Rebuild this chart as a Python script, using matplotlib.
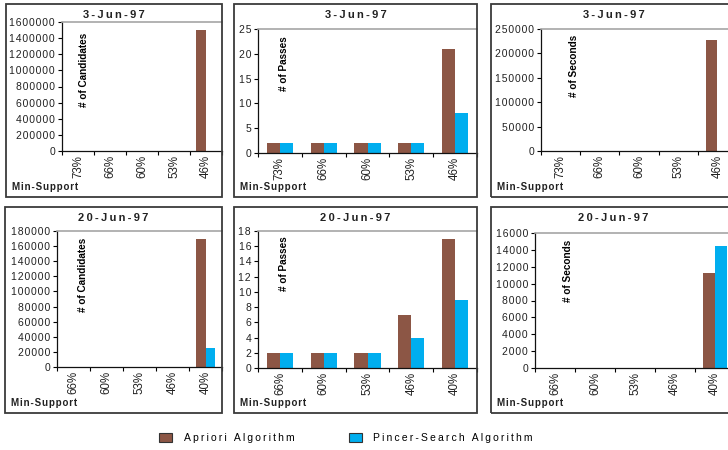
import numpy as np
import matplotlib
matplotlib.use('Agg')
import matplotlib.pyplot as plt
from matplotlib.patches import Rectangle, Patch

plt.rcParams.update({
    'font.family': 'Liberation Sans',
    'font.size': 7.5,
    'figure.facecolor': 'white',
})

C_APRIORI = '#8c5645'
C_PINCER = '#00aeef'
C_BOX = '#3a3a3a'
C_TOP = '#a6a6a6'

# Min-support levels for the two datasets
support_jun3 = ['73%', '66%', '60%', '53%', '46%']
support_jun20 = ['66%', '60%', '53%', '46%', '40%']

# 3-Jun-97
cand_apriori_jun3 = [300, 500, 900, 2500, 1500000]
cand_pincer_jun3 = [300, 500, 900, 2000, 4000]
pass_apriori_jun3 = [2, 2, 2, 2, 21]
pass_pincer_jun3 = [2, 2, 2, 2, 8]
sec_apriori_jun3 = [20, 30, 60, 200, 227000]
sec_pincer_jun3 = [20, 30, 60, 150, 600]

# 20-Jun-97
cand_apriori_jun20 = [50, 80, 150, 400, 170000]
cand_pincer_jun20 = [50, 80, 150, 300, 25000]
pass_apriori_jun20 = [2, 2, 2, 7, 17]
pass_pincer_jun20 = [2, 2, 2, 4, 9]
sec_apriori_jun20 = [2, 3, 5, 20, 11300]
sec_pincer_jun20 = [2, 3, 5, 15, 14500]

W, H = 728, 450
fig = plt.figure(figsize=(W / 100, H / 100), dpi=100)


def spaced(s, sep='\u2009'):
    return sep.join(s)


def panel(box, rect, title, labels, apriori, pincer, ymax, ystep, ylabel, lab_xy):
    # panel frame (pixel coords, top-left origin)
    bl, bt, br, bb = box
    fig.patches.append(Rectangle((bl / W, 1 - bb / H), (br - bl) / W, (bb - bt) / H,
                                 transform=fig.transFigure, fill=False,
                                 edgecolor=C_BOX, linewidth=1.3, zorder=0))
    fig.text((bl + br) / 2 / W, 1 - (bt + 11) / H, spaced(title), ha='center', va='center',
             fontsize=8, fontweight='bold', color='#222222')
    fig.text((bl + 6) / W, 1 - (bb - 10) / H, spaced('Min-Support', '\u200a'),
             ha='left', va='center', fontsize=7, fontweight='bold', color='#222222')

    l, t, r, b = rect
    ax = fig.add_axes([l / W, 1 - b / H, (r - l) / W, (b - t) / H])
    x = np.arange(len(labels))
    w = 0.3
    ax.bar(x - w / 2, apriori, w, color=C_APRIORI, linewidth=0)
    ax.bar(x + w / 2, pincer, w, color=C_PINCER, linewidth=0)
    ax.set_xlim(-0.5, len(labels) - 0.5)
    ax.set_ylim(0, ymax)

    yt = np.arange(0, ymax + 1, ystep)
    ax.set_yticks(yt)
    ax.set_yticklabels([spaced(str(int(v)), '\u200a') for v in yt], fontsize=7.5, color='#222222')
    ax.tick_params(axis='y', direction='out', length=3, width=0.8, pad=2)

    ax.set_xticks(x)
    ax.set_xticklabels(labels, rotation=90, fontsize=8.3, color='#222222')
    ax.tick_params(axis='x', which='major', length=0, pad=3)
    ax.set_xticks(np.arange(-0.5, len(labels), 1), minor=True)
    ax.tick_params(axis='x', which='minor', direction='out', length=3, width=0.8)

    ax.spines['right'].set_visible(False)
    ax.spines['top'].set_color(C_TOP)
    ax.spines['top'].set_linewidth(1.2)
    for s in ('left', 'bottom'):
        ax.spines[s].set_linewidth(0.9)
        ax.spines[s].set_color('#111111')

    ax.text(lab_xy[0], lab_xy[1], ylabel, transform=ax.transAxes, rotation=90,
            ha='center', va='top', fontweight='bold', fontsize=7.2)
    return ax


# top row: 3-Jun-97
panel((6, 4, 222, 197), (62, 22, 222, 151), '3-Jun-97', support_jun3,
      cand_apriori_jun3, cand_pincer_jun3, 1600000, 200000, '# of Candidates', (0.14, 0.92))
panel((234, 4, 477, 197), (258, 29, 477, 153), '3-Jun-97', support_jun3,
      pass_apriori_jun3, pass_pincer_jun3, 25, 5, '# of Passes', (0.12, 0.94))
panel((491, 4, 736, 197), (541, 29, 737, 151), '3-Jun-97', support_jun3,
      sec_apriori_jun3, sec_pincer_jun3, 250000, 50000, '# of Seconds', (0.17, 0.95))

# bottom row: 20-Jun-97
panel((5, 207, 222, 413), (57, 231, 222, 367), '20-Jun-97', support_jun20,
      cand_apriori_jun20, cand_pincer_jun20, 180000, 20000, '# of Candidates', (0.16, 0.95))
panel((234, 207, 477, 413), (258, 231, 477, 368), '20-Jun-97', support_jun20,
      pass_apriori_jun20, pass_pincer_jun20, 18, 2, '# of Passes', (0.12, 0.96))
panel((491, 207, 736, 413), (535, 233, 735, 368), '20-Jun-97', support_jun20,
      sec_apriori_jun20, sec_pincer_jun20, 16000, 2000, '# of Seconds', (0.165, 0.95))

handles = [Patch(facecolor=C_APRIORI, edgecolor='#333333', linewidth=0.8),
           Patch(facecolor=C_PINCER, edgecolor='#333333', linewidth=0.8)]
fig.legend(handles, [spaced('Apriori Algorithm'), spaced('Pincer-Search Algorithm')],
           loc='center', bbox_to_anchor=(346 / W, 1 - 438 / H), ncol=2, frameon=False,
           fontsize=7.5, handlelength=1.25, handleheight=0.95, handletextpad=1.1,
           columnspacing=5.2)

fig.savefig('out.png', dpi=100)
